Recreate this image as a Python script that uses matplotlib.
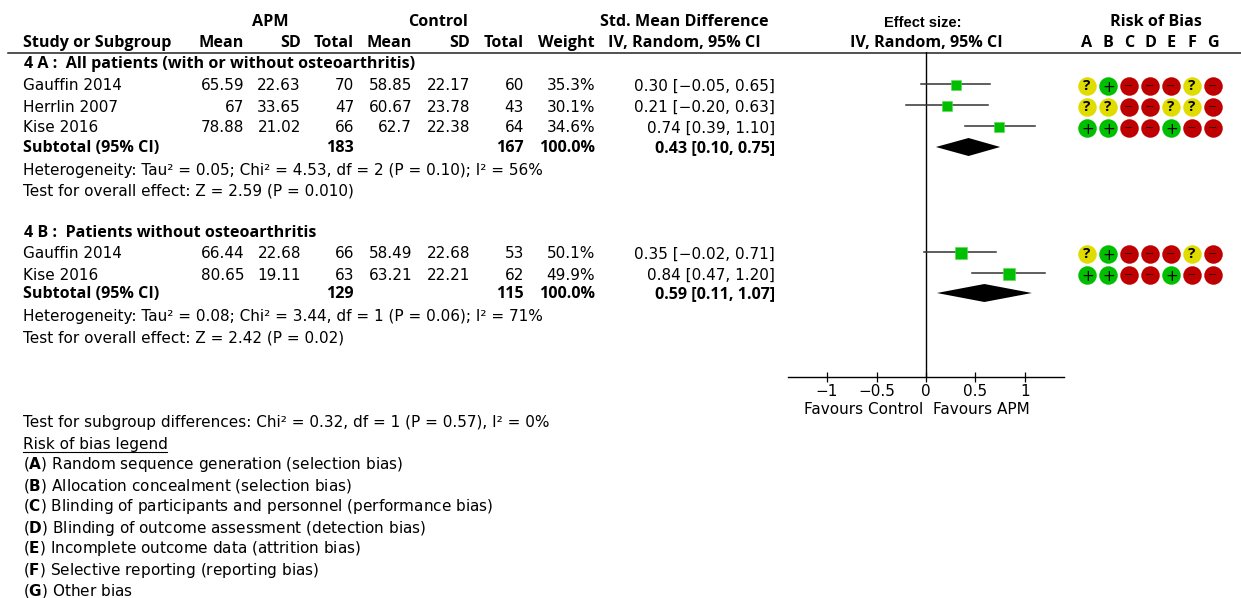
import matplotlib
matplotlib.use("Agg")
import matplotlib.pyplot as plt

plt.rcParams['font.family'] = ['DejaVu Sans']
plt.rcParams['mathtext.fontset'] = 'dejavusans'

# data
studies_a = ["Gauffin 2014", "Herrlin 2007", "Kise 2016"]
apm_mean_a = ["65.59", "67", "78.88"]
apm_sd_a = ["22.63", "33.65", "21.02"]
apm_n_a = [70, 47, 66]
ctl_mean_a = ["58.85", "60.67", "62.7"]
ctl_sd_a = ["22.17", "23.78", "22.38"]
ctl_n_a = [60, 43, 64]
weight_a = [35.3, 30.1, 34.6]
smd_a = [0.30, 0.21, 0.74]
low_a = [-0.05, -0.20, 0.39]
high_a = [0.65, 0.63, 1.10]
total_a = (183, 167)
pooled_a = (0.43, 0.10, 0.75)
rob_a = ["?+---?-", "??--??-", "++--+--"]

studies_b = ["Gauffin 2014", "Kise 2016"]
apm_mean_b = ["66.44", "80.65"]
apm_sd_b = ["22.68", "19.11"]
apm_n_b = [66, 63]
ctl_mean_b = ["58.49", "63.21"]
ctl_sd_b = ["22.68", "22.21"]
ctl_n_b = [53, 62]
weight_b = [50.1, 49.9]
smd_b = [0.35, 0.84]
low_b = [-0.02, 0.47]
high_b = [0.71, 1.20]
total_b = (129, 115)
pooled_b = (0.59, 0.11, 1.07)
rob_b = ["?+---?-", "++--+--"]

legend_letters = ["A", "B", "C", "D", "E", "F", "G"]
legend_items = [
    "Random sequence generation (selection bias)",
    "Allocation concealment (selection bias)",
    "Blinding of participants and personnel (performance bias)",
    "Blinding of outcome assessment (detection bias)",
    "Incomplete outcome data (attrition bias)",
    "Selective reporting (reporting bias)",
    "Other bias",
]
x_ticks = [-1, -0.5, 0, 0.5, 1]
x_labels = ["\u22121", "\u22120.5", "0", "0.5", "1"]

W, H = 1241, 598
FS = 10.95
FS_BOLD = 11.6
GREEN = "#00BF00"
YELLOW = "#E0DC00"
RED = "#BF0000"
rob_colors = {"?": YELLOW, "+": GREEN, "-": RED}
rob_x = [1087, 1108, 1129, 1150, 1171, 1192, 1213]
# right edges of the table columns
col_x = [244, 301, 354, 412, 470, 524, 595]

fig = plt.figure(figsize=(W / 100, H / 100), dpi=100)
bg = fig.add_axes([0, 0, 1, 1])
bg.set_xlim(0, W)
bg.set_ylim(H, 0)
bg.axis("off")

# forest panel, y runs in the same pixel rows as the table
fx0, fx1, fy0, fy1 = 788, 1064, 52, 377
ax = fig.add_axes([fx0 / W, 1 - fy1 / H, (fx1 - fx0) / W, (fy1 - fy0) / H])
ax.set_xlim(-1.395, 1.395)
ax.set_ylim(fy1, fy0)
ax.patch.set_alpha(0)
for side in ["top", "left", "right"]:
    ax.spines[side].set_visible(False)
ax.spines["bottom"].set_linewidth(1.0)
ax.set_yticks([])
ax.set_xticks(x_ticks)
ax.set_xticklabels(x_labels, fontsize=FS)
ax.tick_params(axis="x", direction="inout", length=7.2, width=0.9, pad=1.2)
ax.axvline(0, color="black", lw=1.0)


def txt(x, y, s, ha="left", bold=False, size=None, **kw):
    if size is None:
        size = FS_BOLD if bold else FS
    if bold:
        # Open Sans sits a little high next to DejaVu
        kw.setdefault("family", "Open Sans")
        y = y + 1
    bg.text(x, y, s, ha=ha, va="center", fontsize=size,
            fontweight="bold" if bold else "normal", color="black", **kw)


def fmt_ci(v, lo, hi):
    return f"{v:.2f} [{lo:.2f}, {hi:.2f}]".replace("-", "\u2212")


def draw_group(rows, sub_y, names, means, sds, ns, cmeans, csds, cns, weights,
               smd, low, high, totals, pooled, rob):
    for i, y in enumerate(rows):
        txt(23, y, names[i])
        values = [means[i], sds[i], ns[i], cmeans[i], csds[i], cns[i], f"{weights[i]}%"]
        for x, v in zip(col_x, values):
            txt(x, y, str(v), ha="right")
        txt(775, y, fmt_ci(smd[i], low[i], high[i]), ha="right")
        ax.plot([low[i], high[i]], [y - 2, y - 2], color="#333333", lw=1.1, zorder=2)
        # square area follows the weight
        side = 1.78 * weights[i] ** 0.5
        ax.plot(smd[i], y - 1, marker="s", ms=side * 0.72, mfc=GREEN,
                mec="#55DD55", mew=0.4, ls="none", zorder=3, clip_on=False)
        for x, mark in zip(rob_x, rob[i]):
            bg.scatter(x, y, s=(18.5 * 0.72) ** 2, color=rob_colors[mark], lw=0, zorder=2)
            if mark == "?":
                txt(x, y - 1, "?", ha="center", bold=True, size=11, zorder=3)
            elif mark == "+":
                txt(x + 1, y + 1.5, "+", ha="center", size=11, zorder=3)
            else:
                bg.text(x, y, "\u2212", ha="center", va="center", fontsize=8,
                        color="#300000", zorder=3)
    txt(23, sub_y, "Subtotal (95% CI)", bold=True)
    txt(col_x[2], sub_y, str(totals[0]), ha="right", bold=True)
    txt(col_x[5], sub_y, str(totals[1]), ha="right", bold=True)
    txt(col_x[6], sub_y, "100.0%", ha="right", bold=True)
    txt(775, sub_y, fmt_ci(*pooled), ha="right", bold=True)
    v, lo, hi = pooled
    ax.fill([lo, v, hi, v], [sub_y, sub_y - 9, sub_y, sub_y + 9], color="black", lw=0, zorder=3)


# header
txt(270, 21, "APM", ha="center", bold=True)
txt(438, 21, "Control", ha="center", bold=True)
txt(684, 21, "Std. Mean Difference", ha="center", bold=True)
bg.text(923, 23, "Effect size:", ha="center", va="center", fontsize=10.5,
        fontweight="bold", family="Liberation Sans")
txt(1156, 21, "Risk of Bias", ha="center", bold=True)
txt(23, 42, "Study or Subgroup", bold=True)
for x, s in zip(col_x, ["Mean", "SD", "Total", "Mean", "SD", "Total", "Weight"]):
    txt(x, 42, s, ha="right", bold=True)
txt(684, 42, "IV, Random, 95% CI", ha="center", bold=True)
txt(926, 42, "IV, Random, 95% CI", ha="center", bold=True)
for x, s in zip(rob_x, legend_letters):
    txt(x, 42, s, ha="center", bold=True)
bg.plot([8, W], [52.5, 52.5], color="#222222", lw=1.1)

# subgroup A
txt(24, 63, "4 A :  All patients (with or without osteoarthritis)", bold=True)
draw_group([86, 107, 128], 147, studies_a, apm_mean_a, apm_sd_a, apm_n_a, ctl_mean_a,
           ctl_sd_a, ctl_n_a, weight_a, smd_a, low_a, high_a, total_a, pooled_a, rob_a)
txt(23, 170, "Heterogeneity: Tau\u00b2 = 0.05; Chi\u00b2 = 4.53, df = 2 (P = 0.10); I\u00b2 = 56%")
txt(23, 191, "Test for overall effect: Z = 2.59 (P = 0.010)")

# subgroup B
txt(24, 232, "4 B :  Patients without osteoarthritis", bold=True)
draw_group([254, 275], 293, studies_b, apm_mean_b, apm_sd_b, apm_n_b, ctl_mean_b,
           ctl_sd_b, ctl_n_b, weight_b, smd_b, low_b, high_b, total_b, pooled_b, rob_b)
txt(23, 316, "Heterogeneity: Tau\u00b2 = 0.08; Chi\u00b2 = 3.44, df = 1 (P = 0.06); I\u00b2 = 71%")
txt(23, 338, "Test for overall effect: Z = 2.42 (P = 0.02)")

# footer
txt(923, 409, "Favours Control", ha="right")
txt(933, 409, "Favours APM")
txt(23, 422, "Test for subgroup differences: Chi\u00b2 = 0.32, df = 1 (P = 0.57), I\u00b2 = 0%")
txt(23, 444, "Risk of bias legend")
bg.plot([23, 167], [452, 452], color="black", lw=0.8)
for i, (letter, item) in enumerate(zip(legend_letters, legend_items)):
    txt(23, 465 + 21 * i, rf"($\mathbf{{{letter}}}$) {item}")

fig.savefig("out.png", dpi=100)
